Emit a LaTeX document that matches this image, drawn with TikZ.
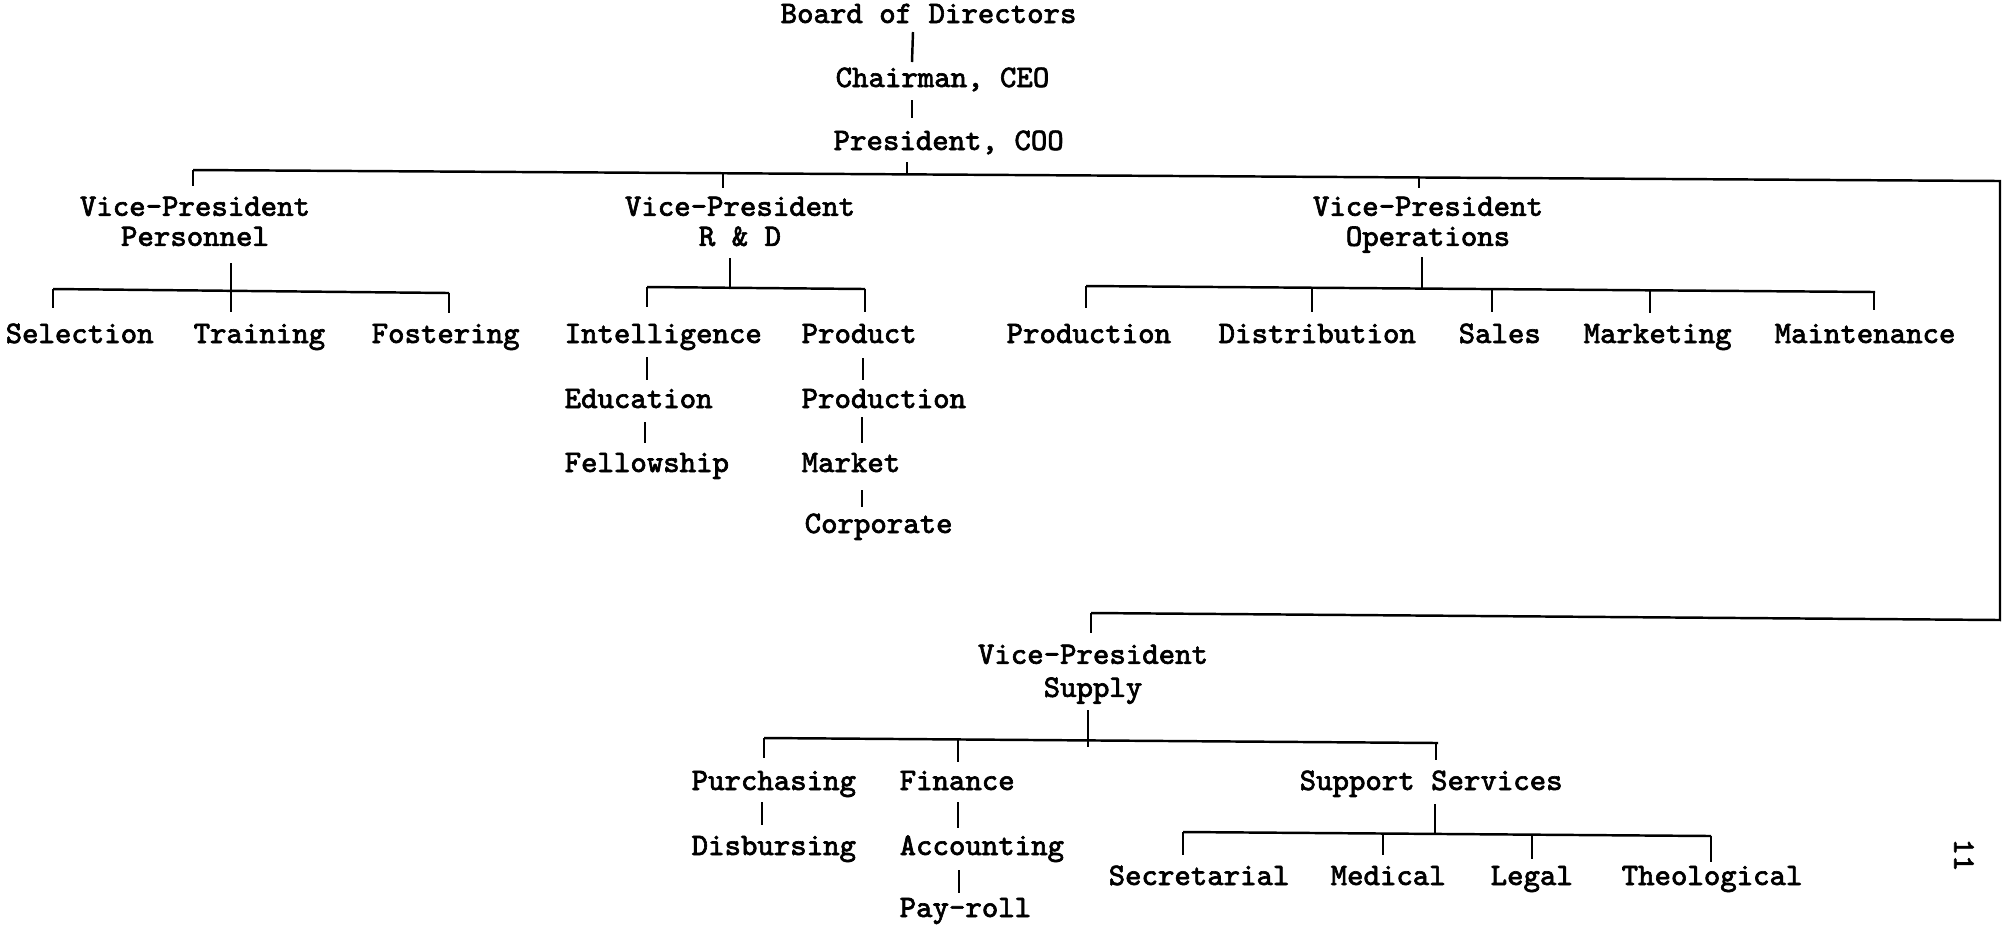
\documentclass[tikz,border=0pt]{standalone}
\usepackage{fontspec}
\newfontfamily\tw{Latin Modern Mono}[FakeBold=2]
\usetikzlibrary{calc}
\begin{document}
\begin{tikzpicture}[x=0.01cm,y=-0.01cm,
  lbl/.style={font=\tw\fontsize{8.9}{8.54}\selectfont, inner sep=0pt, anchor=base west},
  vpbox/.style={font=\tw\fontsize{8.9}{8.54}\selectfont, inner sep=0pt, anchor=north, align=center},
  conn/.style={line width=0.7pt}]
\fill[white] (0,0) rectangle (2002,926);
\useasboundingbox (0,0) rectangle (2002,926);

% ---------------- top chain
\node[lbl] (board) at (780,23) {Board of Directors};
\node[lbl] (chair) at (835,87) {Chairman, CEO};
\node[lbl] (pres)  at (833,150) {President, COO};

% ---------------- vice-presidents
\node[vpbox] (vpp) at (195,196) {Vice-President\\Personnel};
\node[vpbox] (vpr) at (740,196) {Vice-President\\R \& D};
\node[vpbox] (vpo) at (1428,196) {Vice-President\\Operations};
\node[vpbox] (vps) at (1093,644) {Vice-President\\[0.03cm]Supply};

% ---------------- personnel
\node[lbl] (sel) at (5,343) {Selection};
\node[lbl] (tra) at (193,343) {Training};
\node[lbl] (fos) at (371,343) {Fostering};

% ---------------- R & D
\node[lbl] (int)   at (564,343) {Intelligence};
\node[lbl] (edu)   at (564,408) {Education};
\node[lbl] (fel)   at (564,472) {Fellowship};
\node[lbl] (prodt) at (801,343) {Product};
\node[lbl] (prodn) at (801,408) {Production};
\node[lbl] (mkt)   at (801,472) {Market};
\node[lbl] (corp)  at (804,533) {Corporate};

% ---------------- operations
\node[lbl] (oprod) at (1006,343) {Production};
\node[lbl] (dist)  at (1218,343) {Distribution};
\node[lbl] (sales) at (1458,343) {Sales};
\node[lbl] (mktg)  at (1583,343) {Marketing};
\node[lbl] (maint) at (1774,343) {Maintenance};

% ---------------- supply
\node[lbl] (purch) at (691,790) {Purchasing};
\node[lbl] (disb)  at (691,855) {Disbursing};
\node[lbl] (fin)   at (899,790) {Finance};
\node[lbl] (acct)  at (899,855) {Accounting};
\node[lbl] (pay)   at (899,917) {Pay-roll};
\node[lbl] (supp)  at (1299,790) {Support Services};
\node[lbl] (sec)   at (1108,885) {Secretarial};
\node[lbl] (med)   at (1330,885) {Medical};
\node[lbl] (legal) at (1490,885) {Legal};
\node[lbl] (theo)  at (1621,885) {Theological};

% page number
\node[lbl, anchor=center, rotate=-90] (pg) at (1964,855) {11};

% ---------------- bus coordinates
\coordinate (busL) at (193,170);
\coordinate (busR) at (2000,181);
\coordinate (supR) at (2000,620);
\coordinate (supL) at (1091,613);
\coordinate (jP)   at (907,174);
\coordinate (jRD)  at (723,173);
\coordinate (jOps) at (1419,177);

\coordinate (pbL) at (53,289);
\coordinate (pbR) at (449,293);

\coordinate (rbL) at (647,287);
\coordinate (rbR) at (865,289);
\coordinate (rbM) at (730,288);

\coordinate (obL) at (1086,286);
\coordinate (obR) at (1875,292);
\coordinate (obM) at (1422,288);
\coordinate (obD) at (1312,288);
\coordinate (obS) at (1492,289);
\coordinate (obK) at (1650,290);
\coordinate (obE) at (1874,292);

\coordinate (sbL) at (764,738);
\coordinate (sbR) at (1438,743);
\coordinate (sbM) at (1088,747);
\coordinate (sbF) at (958,739);
\coordinate (sbS) at (1436,743);

\coordinate (ssL)  at (1183,832);
\coordinate (ssR)  at (1711,836);
\coordinate (ssM)  at (1435,833);
\coordinate (ssMd) at (1383,833);
\coordinate (ssLg) at (1532,834);

\begin{scope}[conn]
% top chain
\draw ($(board.base west)+(133,9)$) -- ($(chair.base west)+(77,-25)$);
\draw ($(chair.base west)+(77,13)$) -- ($(pres.base west)+(79,-32)$);
\draw ($(pres.base west)+(74,12)$) -- (jP);

% main bus and the route to Supply
\draw (busL) -- (busR) -- (supR) -- (supL);
\draw (busL) -- ($(vpp.north)+(-2,-10)$);
\draw (jRD)  -- ($(vpr.north)+(-17,-8)$);
\draw (jOps) -- ($(vpo.north)+(-9,-8)$);
\draw (supL) -- ($(vps.north)+(-2,-11)$);

% personnel
\draw ($(vpp.north)+(36,67)$) -- ($(tra.base west)+(38,-31)$);
\draw (pbL) -- (pbR);
\draw (pbL) -- ($(sel.base west)+(48,-35)$);
\draw (pbR) -- ($(fos.base west)+(78,-30)$);

% R & D
\draw ($(vpr.north)+(-10,62)$) -- (rbM);
\draw (rbL) -- (rbR);
\draw (rbL) -- ($(int.base west)+(83,-36)$);
\draw (rbR) -- ($(prodt.base west)+(64,-31)$);
\draw ($(int.base west)+(83,14)$) -- ($(edu.base west)+(83,-28)$);
\draw ($(edu.base west)+(81,14)$) -- ($(fel.base west)+(81,-29)$);
\draw ($(prodt.base west)+(62,15)$) -- ($(prodn.base west)+(62,-28)$);
\draw ($(prodn.base west)+(61,9)$) -- ($(mkt.base west)+(61,-29)$);
\draw ($(mkt.base west)+(61,18)$) -- ($(corp.base west)+(58,-26)$);

% operations
\draw ($(vpo.north)+(-6,61)$) -- (obM);
\draw (obL) -- (obR);
\draw (obL) -- ($(oprod.base west)+(80,-35)$);
\draw (obD) -- ($(dist.base west)+(94,-31)$);
\draw (obS) -- ($(sales.base west)+(34,-31)$);
\draw (obK) -- ($(mktg.base west)+(67,-30)$);
\draw (obE) -- ($(maint.base west)+(100,-33)$);

% supply
\draw ($(vps.north)+(-5,66)$) -- (sbM);
\draw (sbL) -- (sbR);
\draw (sbL) -- ($(purch.base west)+(73,-32)$);
\draw (sbF) -- ($(fin.base west)+(59,-28)$);
\draw (sbS) -- ($(supp.base west)+(137,-30)$);
\draw ($(purch.base west)+(71,12)$) -- ($(disb.base west)+(71,-30)$);
\draw ($(fin.base west)+(59,12)$) -- ($(acct.base west)+(59,-27)$);
\draw ($(acct.base west)+(60,15)$) -- ($(pay.base west)+(60,-24)$);
\draw ($(supp.base west)+(136,14)$) -- (ssM);
\draw (ssL) -- (ssR);
\draw (ssL)  -- ($(sec.base west)+(75,-30)$);
\draw (ssMd) -- ($(med.base west)+(53,-30)$);
\draw (ssLg) -- ($(legal.base west)+(42,-26)$);
\draw (ssR)  -- ($(theo.base west)+(90,-23)$);
\end{scope}
\end{tikzpicture}
\end{document}
